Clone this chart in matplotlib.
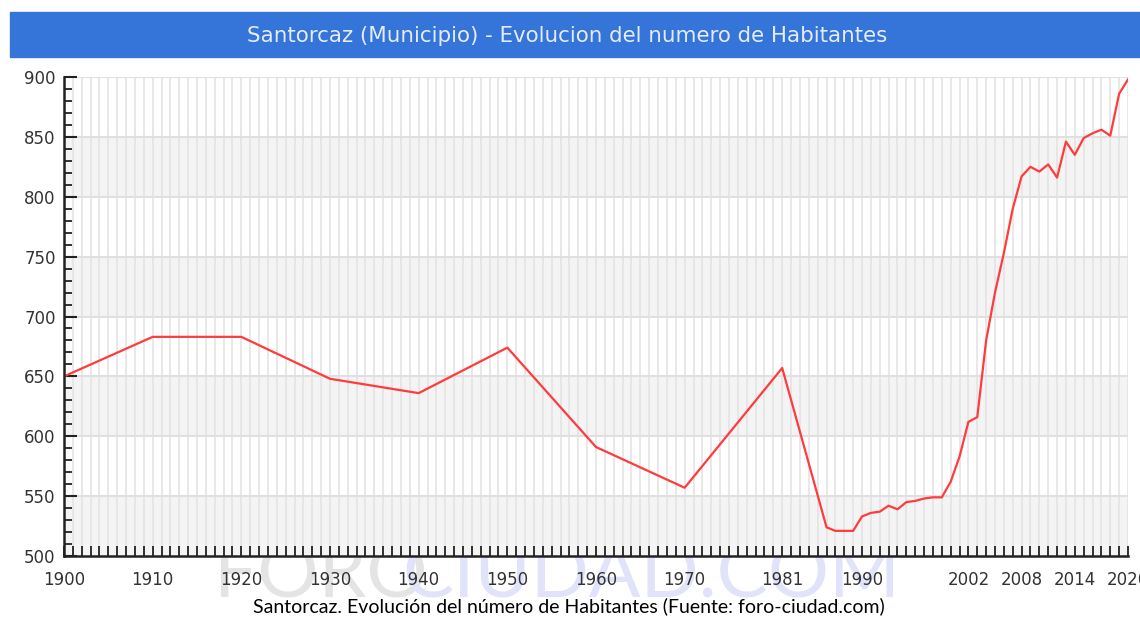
import matplotlib.pyplot as plt
from matplotlib.patches import Rectangle
from matplotlib.ticker import MultipleLocator

YEARS = [1900, 1910, 1920, 1930, 1940, 1950, 1960, 1970, 1981,
         1986, 1987, 1988, 1989, 1990, 1991, 1992, 1993, 1994, 1995,
         1996, 1997, 1998, 1999, 2000, 2001, 2002, 2003, 2004, 2005,
         2006, 2007, 2008, 2009, 2010, 2011, 2012, 2013, 2014, 2015,
         2016, 2017, 2018, 2019, 2020]
HABITANTES = [650, 683, 683, 648, 636, 674, 591, 557, 657,
              524, 521, 521, 521, 533, 536, 537, 542, 539, 545,
              546, 548, 549, 549, 562, 583, 612, 616, 680, 720,
              753, 790, 817, 825, 821, 827, 816, 846, 835, 849,
              853, 856, 851, 886, 898]
X_LABELS = [1900, 1910, 1920, 1930, 1940, 1950, 1960, 1970, 1981,
            1990, 2002, 2008, 2014, 2020]

TITLE = "Santorcaz (Municipio) - Evolucion del numero de Habitantes"
CAPTION = "Santorcaz. Evolución del número de Habitantes (Fuente: foro-ciudad.com)"

W, H = 1140, 622


def main():
    fig = plt.figure(figsize=(W / 100, H / 100), dpi=100)

    # title bar
    fig.patches.append(Rectangle((10 / W, 1 - 57 / H), 1130 / W, 45 / H,
                                 transform=fig.transFigure, color='#3574D8', zorder=0))
    fig.text(567 / W, 1 - 36 / H, TITLE, color='#E4ECFA', fontsize=15.4,
             ha='center', va='center', family='DejaVu Sans')

    # watermark behind the plot
    fig.text(214 / W, 1 - 598 / H, "FORO", color='#E4E4E4', fontsize=55,
             family='Lato', zorder=-5)
    fig.text(402 / W, 1 - 598 / H, "CIUDAD.COM", color='#E0E3FA', fontsize=55,
             family='Lato', zorder=-5)

    ax = fig.add_axes([64 / W, 1 - 556 / H, (1128 - 64) / W, (556 - 77) / H])
    ax.set_facecolor('white')

    # alternating bands
    for lo in range(500, 900, 100):
        ax.axhspan(lo, lo + 50, color='#F4F4F4', lw=0, zorder=0)
    for yr in range(1900, 2021):
        ax.axvline(yr, color='#E4E4E4', lw=1.2, zorder=1)
    for v in range(550, 901, 50):
        ax.axhline(v, color='#E0E0E0', lw=1.5, zorder=1)

    ax.plot(YEARS, HABITANTES, color='#FF3B3B', lw=1.6, zorder=3)

    ax.set_xlim(1900, 2020)
    ax.set_ylim(500, 900)

    ax.set_xticks(X_LABELS)
    ax.set_xticklabels([str(x) for x in X_LABELS])
    ax.xaxis.set_minor_locator(MultipleLocator(1))
    ax.yaxis.set_major_locator(MultipleLocator(50))
    ax.yaxis.set_minor_locator(MultipleLocator(10))

    ax.tick_params(axis='x', which='both', direction='in', length=7, width=1.3,
                   color='#222222', labelsize=12, labelcolor='#333333', pad=10.5)
    ax.tick_params(axis='y', which='major', direction='in', length=9, width=1.5,
                   color='#222222', labelsize=12, labelcolor='#333333', pad=6)
    ax.tick_params(axis='y', which='minor', direction='in', length=6, width=1.3,
                   color='#222222')

    for s in ['top', 'right']:
        ax.spines[s].set_visible(False)
    for s in ['left', 'bottom']:
        ax.spines[s].set_color('#222222')
        ax.spines[s].set_linewidth(1.8)
        ax.spines[s].set_zorder(4)

    fig.text(569 / W, 1 - 606 / H, CAPTION, color='black', fontsize=14,
             ha='center', va='center', family='Lato')

    plt.savefig("out.png", dpi=100)


if __name__ == "__main__":
    main()
